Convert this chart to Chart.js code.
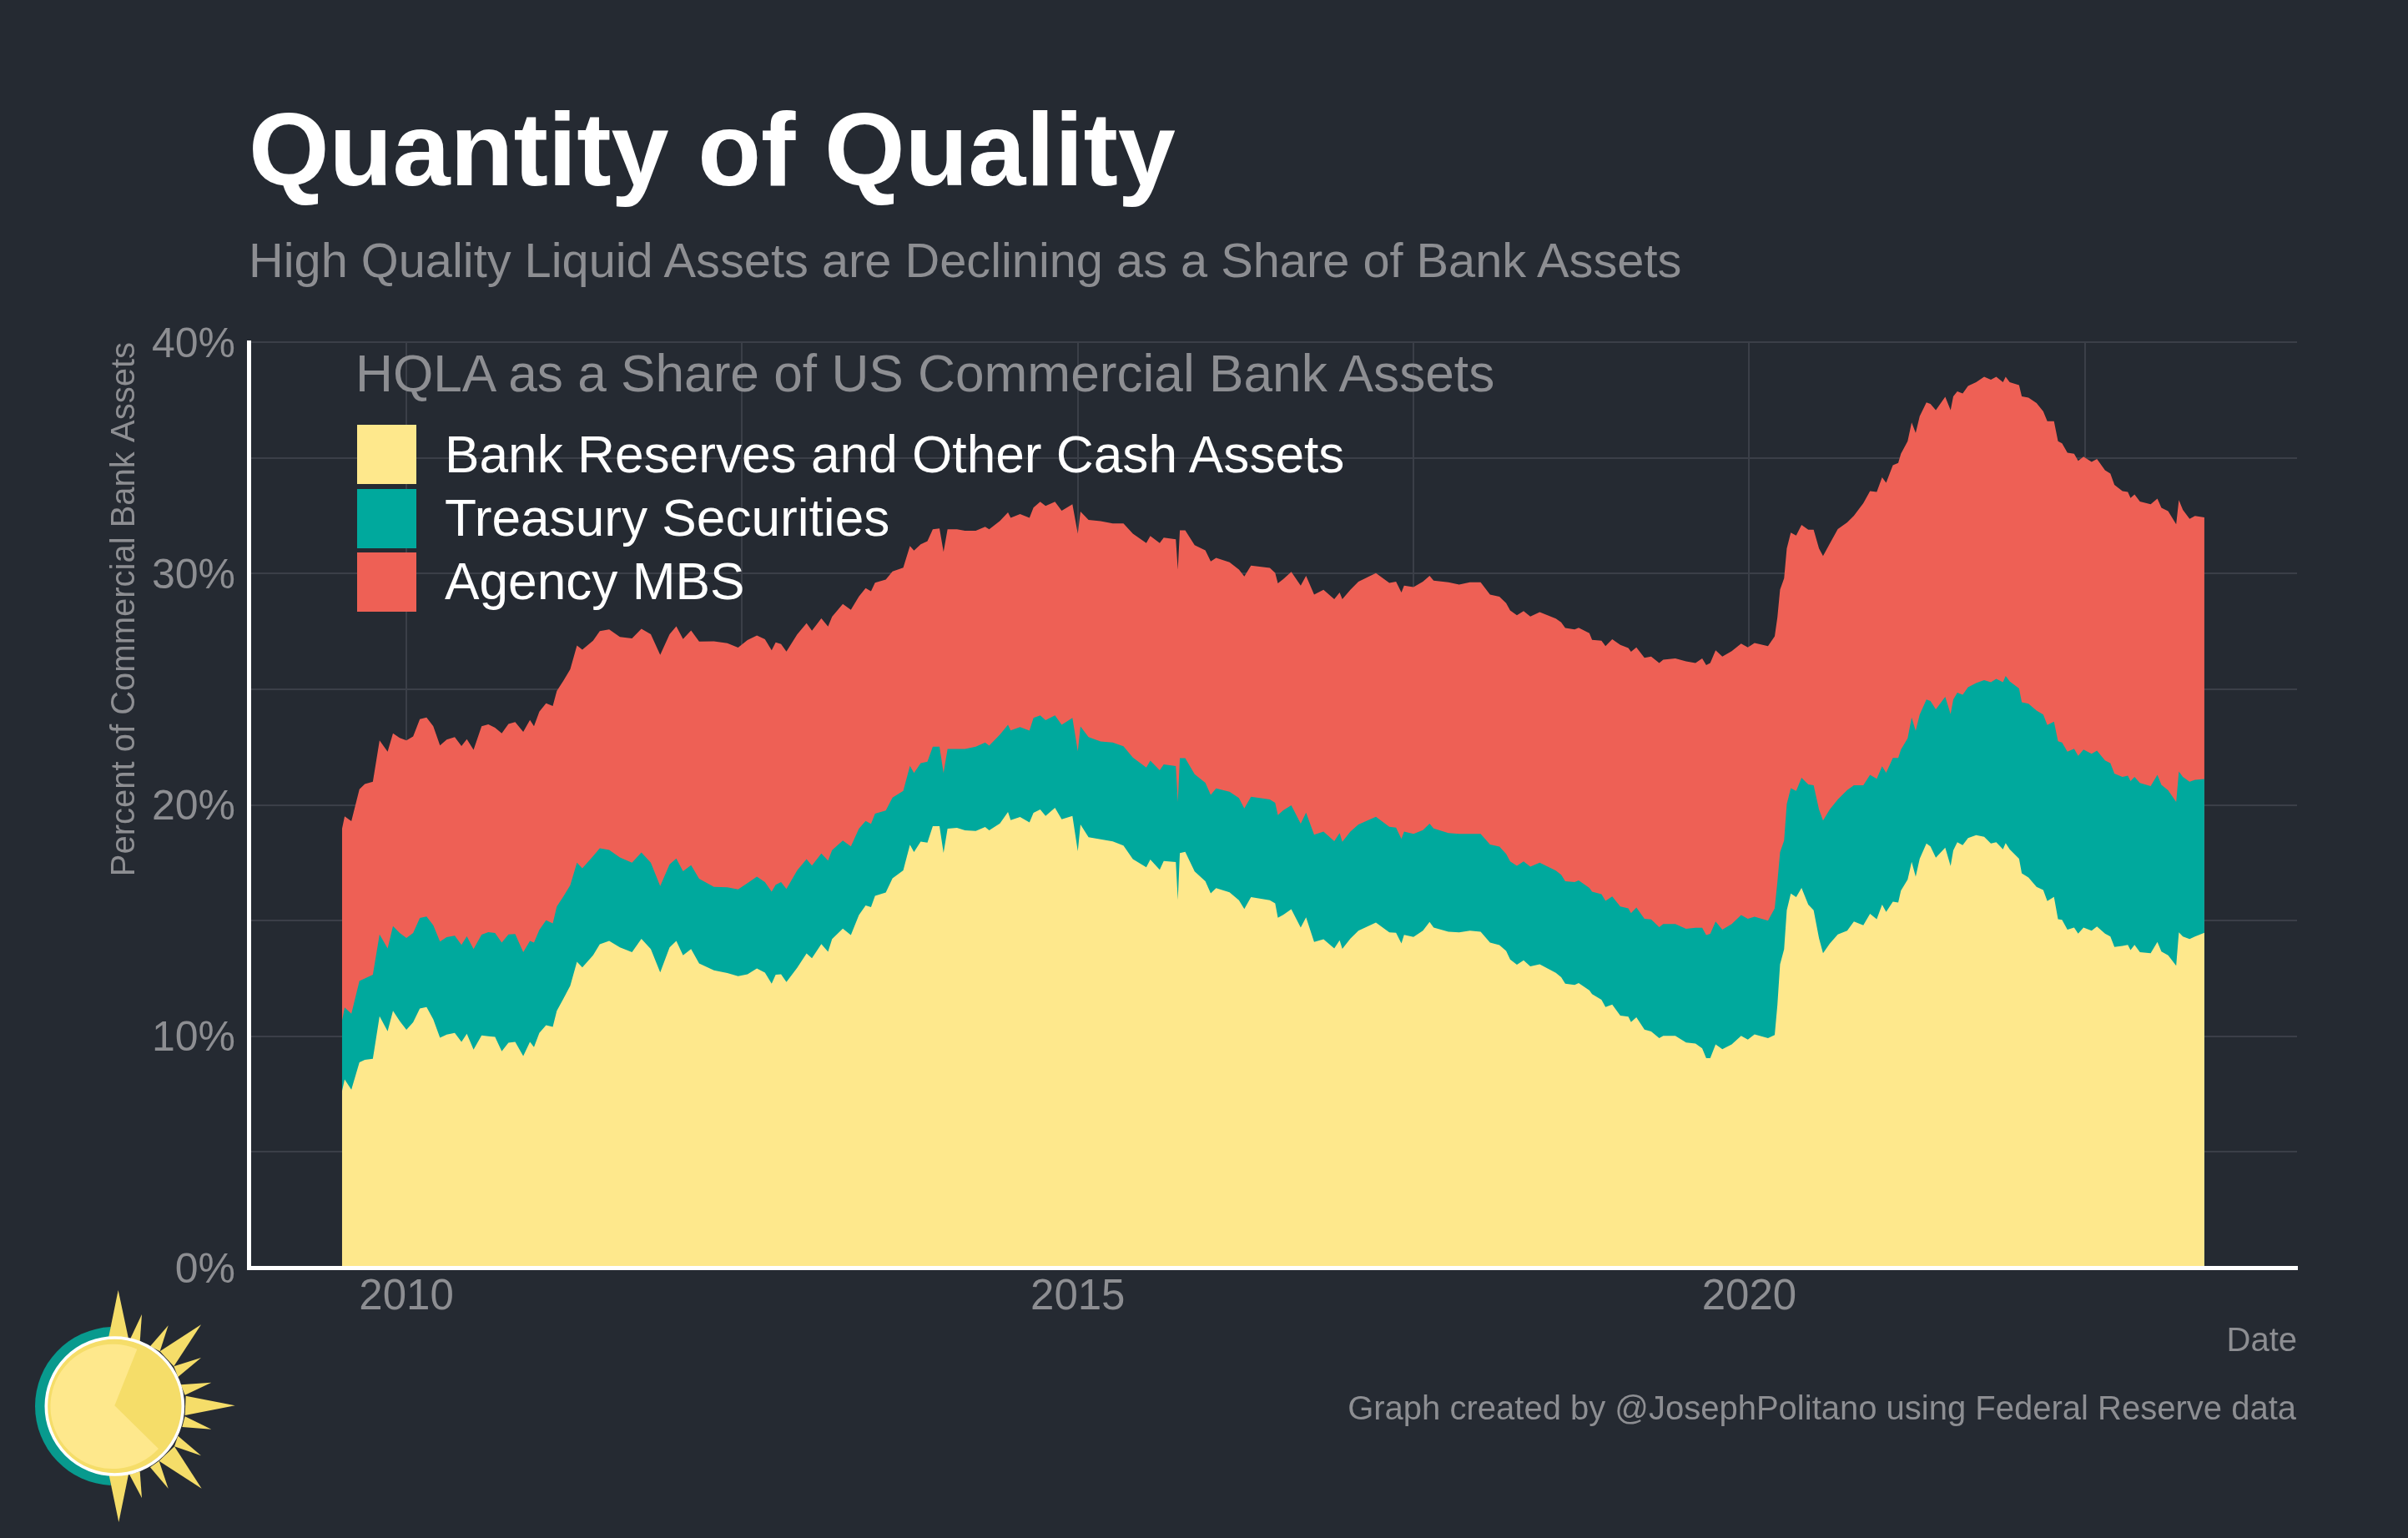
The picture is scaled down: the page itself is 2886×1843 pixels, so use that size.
<!DOCTYPE html>
<html>
<head>
<meta charset="utf-8">
<title>Quantity of Quality</title>
<script src="https://cdn.jsdelivr.net/npm/chart.js@4"></script>
<style>
  html, body { margin: 0; padding: 0; background: #252A32; }
  body { position: relative; width: 2886px; height: 1843px; overflow: hidden; font-family: "Liberation Sans", Arial, sans-serif; }
  #chart { position: absolute; left: 0; top: 0; }
  .txt { position: absolute; line-height: 1; white-space: nowrap; }
  #title { left: 298px; top: 117px; font-size: 124.2px; font-weight: bold; color: #fff; }
  #subtitle { left: 298px; top: 284px; font-size: 57.75px; color: #8D8E92; }
  #legendTitle { left: 426px; top: 416.5px; font-size: 62.2px; color: #8D8E92; }
  .swatch { position: absolute; left: 428px; width: 71px; height: 71px; }
  .label { left: 533px; font-size: 62.2px; color: #fff; }
  #caption { right: 134px; top: 1667px; font-size: 40px; color: #8D8E92; }
  #logo { position: absolute; left: 0; top: 1500px; }
</style>
</head>
<body>
<canvas id="chart" width="2886" height="1843"></canvas>

<div class="txt" id="title">Quantity of Quality</div>
<div class="txt" id="subtitle">High Quality Liquid Assets are Declining as a Share of Bank Assets</div>
<div class="txt" id="legendTitle">HQLA as a Share of US Commercial Bank Assets</div>
<div id="legend"></div>
<div class="txt" id="caption">Graph created by @JosephPolitano using Federal Reserve data</div>

<svg id="logo" width="400" height="343" viewBox="0 0 1200 1029">
  <path d="M398 270.3 A285 285 0 0 0 398 839.7 Z" fill="#089A8E"/>
  <g fill="#F5DD69">
    <polygon points="390,310 425,138 462,312"/>
    <polygon points="465,320 510,225 503,325"/>
    <polygon points="540,340 605,265 575,358"/>
    <polygon points="575,358 723,262 625,412"/>
    <polygon points="625,412 723,381 640,450"/>
    <polygon points="650,478 760,470 665,515"/>
    <polygon points="668,518 845,553 665,588"/>
    <polygon points="665,592 760,638 655,630"/>
    <polygon points="640,662 723,733 627,700"/>
    <polygon points="627,700 725,851 572,752"/>
    <polygon points="572,752 605,851 540,775"/>
    <polygon points="503,790 510,885 465,800"/>
    <polygon points="462,800 427,972 392,803"/>
  </g>
  <circle cx="412" cy="555" r="246" fill="#F5DD69" stroke="#fff" stroke-width="11"/>
  <path d="M412 553 L493 350 A224 224 0 1 0 570 708 Z" fill="#FEE88C"/>
</svg>

<script>
// decimal years
const dates = [
  2009.52,2009.54,2009.59,2009.65,2009.69,2009.75,2009.80,2009.86,2009.90,2009.95,2010.00,
  2010.05,2010.10,2010.15,2010.20,2010.25,2010.30,2010.36,2010.41,2010.45,2010.50,2010.56,2010.61,2010.66,2010.71,2010.76,2010.81,2010.87,2010.92,2010.95,
  2010.99,2011.04,2011.09,2011.12,2011.17,2011.22,2011.27,2011.31,2011.39,2011.44,2011.51,2011.59,2011.68,2011.75,2011.82,2011.89,2011.96,2012.01,2012.06,2012.12,2012.18,2012.29,2012.39,2012.47,
  2012.54,2012.61,2012.67,2012.72,2012.75,2012.79,2012.83,2012.91,2012.98,2013.02,2013.09,2013.14,2013.17,2013.25,2013.31,2013.37,2013.42,2013.46,
  2013.49,2013.57,2013.62,2013.70,2013.75,2013.78,2013.83,2013.88,2013.92,2013.97,
  2014.00,2014.03,2014.10,2014.16,2014.24,2014.31,2014.34,2014.42,2014.48,2014.50,2014.57,2014.64,2014.67,2014.72,2014.76,2014.83,2014.88,2014.96,
  2015.00,2015.02,2015.08,2015.17,2015.26,2015.34,2015.41,
  2015.51,2015.54,2015.61,2015.64,2015.73,2015.745,2015.76,2015.80,2015.87,2015.95,2015.99,
  2016.03,2016.13,2016.20,2016.24,2016.29,2016.43,2016.47,2016.49,2016.53,2016.59,2016.66,2016.70,2016.76,2016.83,2016.91,2016.95,2016.97,
  2017.03,2017.09,2017.22,2017.32,2017.37,2017.41,2017.43,2017.50,2017.57,2017.62,2017.65,2017.76,2017.84,2017.92,
  2018.00,2018.07,2018.14,2018.19,2018.22,2018.27,2018.32,2018.37,2018.44,2018.56,2018.60,2018.63,2018.70,2018.73,2018.81,2018.83,2018.90,2018.93,2018.98,
  2019.04,2019.10,2019.12,2019.16,2019.22,2019.27,2019.33,2019.36,2019.45,2019.53,2019.60,2019.65,2019.68,2019.71,2019.75,2019.80,2019.87,2019.94,2019.99,
  2020.04,2020.14,2020.19,2020.21,2020.23,2020.26,2020.28,2020.31,2020.35,2020.39,2020.44,2020.48,2020.52,2020.55,2020.60,2020.66,2020.73,2020.78,2020.85,2020.90,
  2020.95,2020.99,2021.02,2021.07,2021.11,2021.13,2021.18,2021.21,2021.24,2021.27,2021.32,2021.35,2021.39,2021.46,2021.50,2021.52,2021.55,2021.59,2021.63,2021.69,2021.75,2021.80,2021.84,2021.89,2021.91,2021.94,
  2022.01,2022.03,2022.08,2022.14,2022.19,2022.22,2022.27,2022.30,2022.33,2022.37,2022.42,2022.45,2022.49,2022.55,2022.59,2022.65,2022.69,2022.72,2022.78,2022.82,2022.84,2022.87,2022.91,2022.99,
  2023.04,2023.07,2023.12,2023.18,2023.20,2023.23,2023.28,2023.32,2023.39
];

// percent of bank assets, reserves alone
const reserves = [
  7.62,8.13,7.69,8.87,8.98,9.03,10.87,10.22,11.1,10.66,10.28,
  10.6,11.2,11.26,10.73,9.94,10.07,10.14,9.76,10.11,9.42,10.04,10.0,9.97,9.35,9.72,9.76,9.14,9.76,9.53,
  10.14,10.48,10.41,11.1,11.63,12.18,13.22,12.98,13.5,13.98,14.12,13.84,13.63,14.21,13.77,12.76,13.84,14.12,13.5,13.77,13.15,12.85,12.73,12.6,
  12.68,12.93,12.75,12.27,12.66,12.68,12.34,12.96,13.58,13.37,13.99,13.65,14.2,14.65,14.37,15.24,15.65,15.58,
  16.07,16.21,16.83,17.17,18.28,17.96,18.41,18.37,19.08,19.08,
  17.93,18.97,19.01,18.9,18.87,19.04,18.9,19.2,19.69,19.34,19.48,19.24,19.66,19.8,19.52,19.87,19.38,19.52,
  18.0,19.15,18.6,18.51,18.42,18.24,17.66,
  17.3,17.64,17.2,17.57,17.53,15.9,17.92,17.97,17.12,16.7,16.18,
  16.4,16.22,15.88,15.5,16.01,15.88,15.74,15.12,15.25,15.49,14.7,15.14,14.08,14.19,13.8,14.15,13.78,
  14.22,14.56,14.91,14.49,14.47,14.01,14.38,14.29,14.56,14.94,14.7,14.52,14.49,14.56,
  14.52,14.05,13.94,13.69,13.32,13.09,13.28,13.02,13.11,12.74,12.55,12.27,12.22,12.3,11.98,11.82,11.58,11.26,11.37,
  10.89,10.85,10.61,10.82,10.29,10.21,9.92,10.02,10.02,9.73,9.68,9.48,9.05,9.05,9.65,9.44,9.65,10.02,9.86,
  10.08,9.92,10.05,11.34,13.11,13.76,15.45,16.17,16.01,16.41,15.69,15.45,14.24,13.59,14.0,14.4,14.56,14.96,14.8,15.29,
  15.06,15.69,15.37,15.82,15.78,16.29,16.77,17.54,16.9,17.67,18.33,18.21,17.72,18.15,17.36,18.03,18.39,18.26,18.57,18.69,18.62,18.33,18.39,18.08,18.35,18.08,
  17.67,17.04,16.86,16.46,16.32,15.84,16.02,15.06,15.03,14.61,14.7,14.44,14.7,14.56,14.74,14.44,14.31,13.86,13.9,13.95,13.72,13.95,13.63,13.59,
  14.08,13.66,13.5,13.05,14.49,14.31,14.2,14.31,14.47
];

// running total: reserves + treasuries
const plusTreasuries = [
  10.66,11.24,10.97,12.39,12.5,12.66,14.4,13.8,14.76,14.46,14.25,
  14.46,15.11,15.18,14.8,14.09,14.28,14.35,13.95,14.32,13.77,14.39,14.5,14.46,14.05,14.4,14.42,13.63,14.12,14.05,
  14.6,15.01,14.88,15.61,16.05,16.53,17.5,17.26,17.78,18.12,18.05,17.73,17.5,17.94,17.5,16.49,17.43,17.68,17.13,17.39,16.81,16.46,16.44,16.35,
  16.62,16.9,16.66,16.25,16.55,16.66,16.37,17.17,17.66,17.38,17.9,17.59,18.04,18.46,18.21,18.97,19.31,19.18,
  19.62,19.76,20.32,20.6,21.69,21.38,21.8,21.87,22.52,22.52,
  21.38,22.42,22.42,22.42,22.52,22.7,22.56,23.04,23.46,23.22,23.36,23.21,23.76,23.87,23.66,23.87,23.46,23.76,
  22.32,23.39,22.93,22.74,22.7,22.53,22.05,
  21.61,21.91,21.5,21.75,21.68,20.13,22.02,22.02,21.33,20.96,20.43,
  20.71,20.57,20.3,19.85,20.35,20.23,20.09,19.56,19.77,19.98,19.19,19.67,18.71,18.85,18.43,18.78,18.4,
  18.85,19.15,19.49,19.05,19.02,18.53,18.85,18.75,18.91,19.19,18.98,18.78,18.75,18.75,
  18.75,18.29,18.2,17.88,17.56,17.37,17.56,17.33,17.5,17.16,16.98,16.7,16.66,16.74,16.41,16.25,16.14,15.85,16.04,
  15.61,15.53,15.32,15.56,15.08,15.05,14.72,14.85,14.85,14.64,14.69,14.69,14.37,14.43,14.96,14.61,14.85,15.24,15.08,
  15.17,15.0,15.53,16.66,17.95,18.46,20.04,20.72,20.6,21.17,20.88,20.85,19.8,19.32,19.8,20.23,20.64,20.85,20.85,21.3,
  21.13,21.67,21.39,22.03,22.03,22.39,22.88,23.78,23.2,23.9,24.55,24.49,24.13,24.67,23.92,24.55,24.85,24.76,25.09,25.27,25.39,25.3,25.45,25.3,25.57,25.34,
  25.03,24.44,24.37,24.08,23.9,23.45,23.6,22.75,22.7,22.3,22.43,22.12,22.39,22.21,22.34,21.92,21.8,21.35,21.21,21.26,21.03,21.21,20.95,20.81,
  21.3,20.87,20.63,20.13,21.44,21.21,21.0,21.08,21.12
];

// running total: reserves + treasuries + agency MBS
const plusMbs = [
  18.95,19.5,19.3,20.68,20.9,21.0,22.79,22.3,23.09,22.89,22.79,
  22.96,23.71,23.78,23.4,22.57,22.82,22.93,22.54,22.84,22.38,23.4,23.48,23.34,23.09,23.5,23.58,23.16,23.67,23.4,
  24.03,24.39,24.27,24.92,25.37,25.86,26.89,26.71,27.1,27.51,27.58,27.26,27.2,27.61,27.38,26.48,27.38,27.72,27.17,27.54,27.06,27.07,26.99,26.8,
  27.12,27.32,27.16,26.68,27.02,26.95,26.63,27.37,27.85,27.53,28.06,27.71,28.13,28.68,28.43,29.01,29.37,29.23,
  29.6,29.74,30.09,30.25,31.19,30.99,31.26,31.4,31.91,31.95,
  30.94,31.91,31.91,31.85,31.85,32.02,31.91,32.27,32.64,32.41,32.57,32.41,32.85,33.1,32.92,33.1,32.71,32.99,
  31.72,32.68,32.32,32.26,32.16,32.16,31.72,
  31.32,31.62,31.32,31.55,31.48,30.17,31.87,31.87,31.23,31.0,30.52,
  30.68,30.49,30.17,29.87,30.34,30.24,30.03,29.58,29.76,30.07,29.48,29.9,29.09,29.3,28.89,29.18,28.89,
  29.3,29.65,30.02,29.59,29.65,29.18,29.48,29.41,29.65,29.9,29.69,29.62,29.52,29.62,
  29.62,29.09,29.0,28.72,28.4,28.2,28.38,28.14,28.33,28.05,27.89,27.65,27.58,27.66,27.42,27.13,27.1,26.86,27.16,
  26.92,26.78,26.62,26.81,26.36,26.41,26.13,26.28,26.33,26.2,26.13,26.33,26.04,26.13,26.68,26.41,26.65,26.97,26.81,
  27.0,26.86,27.29,28.1,29.31,29.79,31.08,31.77,31.64,32.1,31.89,31.89,31.08,30.76,31.29,31.92,32.21,32.5,33.04,33.56,
  33.53,34.16,33.92,34.68,34.78,35.18,35.72,36.53,36.08,36.8,37.39,37.33,37.06,37.64,37.06,37.66,37.87,37.78,38.11,38.27,38.5,38.38,38.5,38.27,38.5,38.27,
  38.14,37.66,37.6,37.37,37.01,36.58,36.58,35.72,35.63,35.22,35.18,34.87,35.05,34.82,34.95,34.46,34.32,33.83,33.56,33.53,33.26,33.42,33.11,32.99,
  33.24,32.84,32.7,32.13,33.17,32.75,32.36,32.49,32.43
];

const seriesNames = ["Bank Reserves and Other Cash Assets", "Treasury Securities", "Agency MBS"];
const seriesColors = ["#FEE88C", "#00A99D", "#EE6055"];
const xTickValues = [2010, 2012.5, 2015, 2017.5, 2020, 2022.5];

const GREY = "#8D8E92";
const GRID = "#3B3F48";

// legend
const legendEl = document.getElementById("legend");
const swatchTops = [509, 586, 662];
const labelTops = [514, 590, 666];
seriesNames.forEach((name, i) => {
  const sw = document.createElement("div");
  sw.className = "swatch";
  sw.style.top = swatchTops[i] + "px";
  sw.style.background = seriesColors[i];
  legendEl.appendChild(sw);

  const lb = document.createElement("div");
  lb.className = "txt label";
  lb.style.top = labelTops[i] + "px";
  lb.textContent = name;
  legendEl.appendChild(lb);
});

function makeArea(i, values) {
  return {
    label: seriesNames[i],
    data: dates.map((d, k) => ({ x: d, y: values[k] })),
    backgroundColor: seriesColors[i],
    borderWidth: 0,
    pointRadius: 0,
    tension: 0,
    fill: "origin"
  };
}

Chart.defaults.font.family = '"Liberation Sans", Arial, sans-serif';
Chart.defaults.color = GREY;

new Chart(document.getElementById("chart"), {
  type: "line",
  data: {
    datasets: [makeArea(0, reserves), makeArea(1, plusTreasuries), makeArea(2, plusMbs)]
  },
  options: {
    responsive: false,
    animation: false,
    devicePixelRatio: 1,
    layout: { padding: { left: 0, top: 410, right: 133, bottom: 204 } },
    plugins: { legend: { display: false }, tooltip: { enabled: false } },
    scales: {
      x: {
        type: "linear",
        min: 2008.825,
        max: 2024.08,
        afterBuildTicks: s => { s.ticks = xTickValues.map(v => ({ value: v })); },
        afterFit: s => { s.height = 120; },
        grid: { color: GRID, lineWidth: 2, drawTicks: false },
        border: { color: "#fff", width: 5, z: 1 },
        ticks: {
          autoSkip: false,
          maxRotation: 0,
          padding: 5,
          font: { size: 51 },
          callback: v => (v % 5 === 0 ? String(v) : "")
        },
        title: {
          display: true,
          text: "Date",
          align: "end",
          font: { size: 40 },
          padding: { top: 12, bottom: 7 }
        }
      },
      y: {
        min: 0,
        max: 40,
        afterFit: s => { s.width = 298; },
        grid: { color: GRID, lineWidth: 2, drawTicks: false },
        border: { color: "#fff", width: 5 },
        ticks: {
          stepSize: 5,
          autoSkip: false,
          padding: 16,
          // blank first line nudges the label down to where the reference has it
          font: { size: 50, lineHeight: "7.5px" },
          callback: v => (v % 10 === 0 ? ["", v + "%"] : "")
        },
        title: {
          display: true,
          text: "Percent of Commercial Bank Assets",
          align: "end",
          font: { size: 40 },
          padding: { top: 126, bottom: 0 }
        }
      }
    }
  }
});
</script>
</body>
</html>
